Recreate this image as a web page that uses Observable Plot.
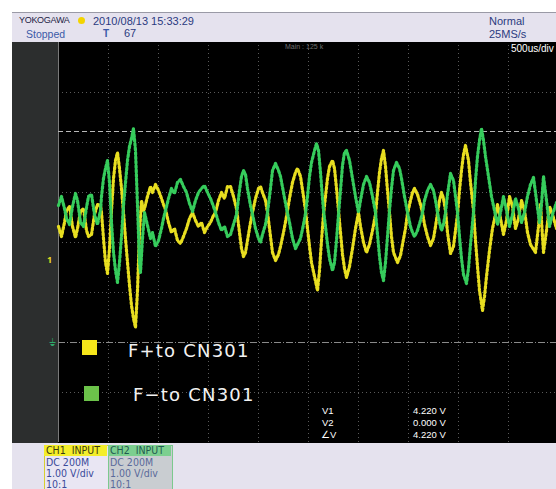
<!DOCTYPE html>
<html>
<head>
<meta charset="utf-8">
<script src="https://cdn.jsdelivr.net/npm/d3@7"></script>
<script src="https://cdn.jsdelivr.net/npm/@observablehq/plot@0.6"></script>
<style>
  html, body { margin: 0; padding: 0; background: #fff; }
  body { width: 556px; height: 489px; position: relative; overflow: hidden; font-family: "Liberation Sans", Arial, sans-serif; }
  .abs { position: absolute; white-space: nowrap; }
  #header { left: 12px; top: 12px; width: 544px; height: 29px; background: #e5e2ee; border-top: 1px solid #9a9aa6; border-bottom: 1px solid #8a8a96; }
  #screen { left: 12px; top: 42px; width: 544px; height: 401px; background: #000; }
  #strip { left: 12px; top: 42px; width: 46px; height: 401px; background: #2c2e2e; }
  #footer { left: 12px; top: 443px; width: 544px; height: 46px; background: #e5e2ee; }
  #chart { left: 0; top: 0; }
  .hd { color: #2b3a80; font-size: 11px; }
  .meas { color: #fff; font-size: 9.5px; }
  .legtxt { color: #f2f2f2; font-size: 18px; letter-spacing: 1.2px; font-family: "DejaVu Sans", "Liberation Sans", sans-serif; }
  .chtxt { color: #3a4a9a; font-size: 10.5px; line-height: 11px; font-family: "DejaVu Sans Condensed", "Liberation Sans Narrow", "Liberation Sans", sans-serif; }
</style>
</head>
<body>
<div id="header" class="abs"></div>
<div id="screen" class="abs"></div>
<div id="strip" class="abs"></div>
<div id="footer" class="abs"></div>
<div id="chart" class="abs"></div>

<!-- header texts -->
<div class="abs" style="left:19px;top:15px;font-size:9px;color:#1c1c44;letter-spacing:-0.3px;">YOKOGAWA</div>
<div class="abs" style="left:78px;top:17px;width:7px;height:7px;border-radius:50%;background:#f3d400;"></div>
<div class="abs hd" style="left:93px;top:15px;">2010/08/13 15:33:29</div>
<div class="abs" style="left:26px;top:28px;font-size:10.5px;color:#3b5aa8;">Stopped</div>
<div class="abs" style="left:103px;top:28px;font-size:10px;color:#3b5aa8;font-weight:bold;">T</div>
<div class="abs hd" style="left:124px;top:27px;">67</div>
<div class="abs hd" style="left:489px;top:15px;">Normal</div>
<div class="abs hd" style="left:489px;top:28px;">25MS/s</div>

<!-- in-screen texts -->
<div class="abs" style="left:285px;top:43px;font-size:7px;color:#6f6f6f;">Main : 125 k</div>
<div class="abs" style="left:511px;top:43px;font-size:10px;color:#fff;">500us/div</div>

<!-- legend -->
<div class="abs" style="left:82px;top:340px;width:15px;height:15px;background:#f6e61a;"></div>
<div class="abs legtxt" style="left:128px;top:340px;" id="leg1"></div>
<div class="abs" style="left:84px;top:386px;width:15px;height:15px;background:#6cc34a;"></div>
<div class="abs legtxt" style="left:133px;top:384px;" id="leg2"></div>

<!-- cursor measurements -->
<div class="abs meas" style="left:322px;top:405px;">V1</div>
<div class="abs meas" style="left:322px;top:417px;">V2</div>
<div class="abs meas" style="left:321px;top:429px;">∠V</div>
<div class="abs meas" style="left:413px;top:405px;" id="m1"></div>
<div class="abs meas" style="left:413px;top:417px;" id="m2"></div>
<div class="abs meas" style="left:413px;top:429px;" id="m3"></div>

<!-- channel boxes -->
<div class="abs" style="left:44px;top:445px;width:63px;height:44px;background:#e9e6f3;border:1px solid #d8cf30;"></div>
<div class="abs" style="left:44px;top:445px;width:63px;height:11px;background:#f4ee2a;"></div>
<div class="abs chtxt" style="left:46px;top:445px;color:#3a3a10;">CH1&nbsp; INPUT</div>
<div class="abs chtxt" style="left:46px;top:457px;">DC 200M<br>1.00 V/div<br>10:1</div>
<div class="abs" style="left:108px;top:445px;width:63px;height:44px;background:#c9cdd1;border:1px solid #7cc98e;"></div>
<div class="abs" style="left:108px;top:445px;width:63px;height:11px;background:#7ccf8f;"></div>
<div class="abs chtxt" style="left:110px;top:445px;color:#1f5a50;">CH2&nbsp; INPUT</div>
<div class="abs chtxt" style="left:110px;top:457px;color:#5a6a9a;">DC 200M<br>1.00 V/div<br>10:1</div>

<script>
// ---- data (time in ms, voltage in V, 1 V/div, 0.5 ms/div) ----
const seriesNames = ["F+to CN301", "F-to CN301"];

// F+ (CH1, yellow)
const fPlusT = [0.00,0.03,0.06,0.08,0.11,0.14,0.17,0.19,0.22,0.25,0.28,0.30,0.33,0.36,0.39,0.42,
0.43,0.45,0.47,0.49,0.51,0.53,0.55,0.57,0.59,0.61,0.63,0.65,0.67,0.69,0.71,0.73,0.75,0.77,0.79,0.81,0.83,0.85,
0.86,0.89,0.92,0.94,0.97,1.00,1.03,1.05,1.07,1.10,1.13,1.16,1.19,1.22,1.25,1.28,1.31,1.34,
1.37,1.40,1.43,1.46,1.49,1.52,1.55,1.57,1.60,1.63,1.66,1.69,1.72,1.75,1.78,
1.81,1.83,1.85,1.87,1.89,1.92,1.94,1.97,2.00,2.02,2.04,2.07,2.09,
2.12,2.14,2.17,2.20,2.22,2.25,2.28,2.31,2.34,2.37,2.39,2.42,2.45,2.47,
2.49,2.51,2.53,2.56,2.59,2.61,2.63,2.65,2.67,2.69,2.71,2.74,2.76,2.78,2.80,
2.82,2.84,2.86,2.88,2.91,2.94,2.97,3.00,3.02,3.05,3.08,3.11,3.14,3.17,
3.19,3.21,3.23,3.25,3.27,3.29,3.31,3.33,3.35,3.39,3.42,3.44,3.47,3.49,
3.52,3.54,3.56,3.59,3.62,3.64,3.66,3.69,3.72,3.75,3.77,3.79,3.81,3.83,3.85,3.87,
3.89,3.92,3.95,3.97,3.99,4.01,4.03,4.05,4.07,4.10,4.12,4.15,
4.17,4.19,4.21,4.24,4.26,4.28,4.31,4.34,4.37,
4.39,4.42,4.45,4.48,4.51,4.54,4.57,4.60,4.63,4.66,4.69,4.72,4.77,4.80,4.82,4.85,4.88,4.91,4.94,4.98];
const fPlusV = [2.32,2.12,2.40,2.64,2.72,2.32,2.10,2.28,2.62,2.68,2.24,2.12,2.16,2.56,2.76,2.74,
2.60,2.08,1.60,1.38,1.88,2.64,3.28,3.64,3.80,3.48,3.08,2.60,2.08,1.60,1.14,0.74,0.48,0.30,1.04,2.20,2.84,2.64,
2.68,2.92,3.12,3.00,3.16,3.04,2.88,2.76,2.66,2.40,2.20,2.28,2.04,1.98,2.12,2.28,2.48,2.60,
2.44,2.32,2.40,2.20,2.32,2.40,2.54,2.60,2.84,3.00,2.88,3.12,3.12,2.92,2.68,
2.20,1.88,1.72,1.80,2.04,2.40,2.60,2.88,3.08,3.12,3.00,2.84,2.60,
2.12,1.80,1.64,1.76,1.92,2.20,2.52,2.88,3.20,3.40,3.48,3.32,2.92,2.64,
2.28,1.92,1.60,1.32,1.04,1.44,2.04,2.56,2.92,3.28,3.52,3.64,3.48,3.08,2.64,
2.20,1.76,1.48,1.30,1.52,1.88,2.28,2.60,2.32,2.00,1.80,1.96,2.24,2.56,
3.00,3.40,3.68,3.84,3.52,3.04,2.60,2.12,1.80,1.60,1.74,1.96,2.28,2.58,
2.84,3.00,3.08,2.96,2.76,2.60,2.36,2.12,1.94,2.08,2.32,2.58,2.84,3.00,2.88,2.64,
2.20,1.78,1.92,2.24,2.56,3.04,3.44,3.76,3.94,3.64,3.20,2.64,
2.04,1.52,1.04,0.64,0.92,1.32,1.84,2.28,2.56,
2.76,2.48,2.16,2.44,2.92,2.72,2.28,2.48,2.84,2.64,2.20,1.96,1.80,2.32,2.76,1.80,2.24,2.72,2.56,2.28];

// F- (CH2, green)
const fMinusT = [0.00,0.03,0.06,0.08,0.11,0.14,0.17,0.19,0.22,0.25,0.28,0.30,0.33,0.36,0.39,0.42,
0.43,0.45,0.47,0.49,0.51,0.53,0.55,0.57,0.59,0.61,0.63,0.65,0.67,0.69,0.71,0.73,0.75,0.77,0.79,0.81,0.82,0.84,
0.86,0.89,0.92,0.94,0.97,1.00,1.03,1.05,1.07,1.10,1.13,1.16,1.19,1.22,1.25,1.28,1.31,1.34,
1.37,1.40,1.43,1.46,1.49,1.52,1.55,1.57,1.60,1.63,1.66,1.69,1.72,1.75,1.78,
1.81,1.83,1.85,1.87,1.89,1.92,1.94,1.97,2.00,2.02,2.04,2.07,2.09,
2.12,2.14,2.17,2.20,2.22,2.25,2.28,2.31,2.34,2.37,2.39,2.42,2.45,2.47,
2.49,2.51,2.53,2.56,2.58,2.60,2.62,2.64,2.65,2.67,2.69,2.71,2.74,2.76,2.78,2.80,
2.82,2.84,2.86,2.88,2.91,2.94,2.97,3.00,3.02,3.05,3.08,3.11,3.14,3.17,
3.19,3.21,3.23,3.25,3.27,3.29,3.31,3.33,3.35,3.38,3.41,3.43,3.46,3.49,
3.52,3.54,3.56,3.59,3.62,3.64,3.66,3.69,3.72,3.75,3.77,3.79,3.81,3.83,3.85,3.87,
3.89,3.92,3.95,3.97,3.99,4.01,4.03,4.05,4.08,4.10,4.12,4.15,
4.17,4.19,4.21,4.23,4.25,4.27,4.30,4.33,4.36,
4.39,4.42,4.45,4.48,4.51,4.54,4.57,4.60,4.63,4.66,4.69,4.72,4.75,4.78,4.81,4.83,4.85,4.88,4.91,4.94,4.98];
const fMinusV = [2.74,2.92,2.68,2.48,2.36,2.72,2.98,2.84,2.40,2.32,2.70,2.92,2.96,2.56,2.36,2.64,
2.92,3.28,3.48,3.64,3.20,2.40,1.80,1.44,1.20,1.60,2.12,2.74,3.20,3.64,3.92,4.08,4.28,3.84,2.74,1.60,1.40,2.08,
2.60,2.34,2.08,2.20,1.92,2.04,2.28,2.48,2.64,2.88,3.08,2.98,3.20,3.26,3.12,3.00,2.78,2.62,
2.84,3.00,3.08,3.14,3.00,2.88,2.72,2.60,2.40,2.24,2.32,2.12,2.16,2.36,2.56,
3.04,3.32,3.44,3.36,3.08,2.74,2.56,2.28,2.08,2.00,2.16,2.36,2.60,
3.08,3.44,3.58,3.44,3.32,3.00,2.68,2.40,2.08,1.88,1.96,2.08,2.36,2.58,
2.92,3.32,3.60,3.84,3.98,3.84,3.40,2.88,2.64,2.32,1.96,1.68,1.44,1.60,2.04,2.56,
3.04,3.54,3.80,3.84,3.64,3.28,2.92,2.60,2.84,3.16,3.32,3.20,2.92,2.60,
2.16,1.72,1.40,1.24,1.60,2.12,2.64,3.08,3.44,3.60,3.48,3.28,2.92,2.60,
2.32,2.20,2.12,2.24,2.44,2.60,2.84,3.04,3.16,3.04,2.84,2.60,2.40,2.24,2.36,2.60,
2.96,3.38,3.24,2.92,2.60,2.12,1.68,1.36,1.18,1.48,1.96,2.60,
3.24,3.72,4.04,4.28,4.04,3.72,3.32,2.92,2.64,
2.36,2.60,2.92,2.64,2.32,2.56,2.88,2.68,2.40,2.60,2.92,3.16,3.30,2.84,2.40,2.76,3.32,2.84,2.32,2.56,2.80];

// screen grid (divisions) and cursors
const gridTimes = [0.5, 1.0, 1.5, 2.0, 2.5, 3.0, 3.5, 4.0, 4.5];
const gridVolts = [5, 4, 3, 2, 1, -1];
const cursorV1 = 4.220;
const cursorV2 = 0.000;
const ch1Marker = 1.64;   // CH1 position marker level (V)

const fPlus = fPlusT.map((t, i) => ({t, v: fPlusV[i]}));
const fMinus = fMinusT.map((t, i) => ({t, v: fMinusV[i]}));

document.getElementById("leg1").textContent = seriesNames[0];
document.getElementById("leg2").textContent = seriesNames[1].replace("-", "\u2212");
document.getElementById("m1").textContent = cursorV1.toFixed(3) + " V";
document.getElementById("m2").textContent = cursorV2.toFixed(3) + " V";
document.getElementById("m3").textContent = (cursorV1 - cursorV2).toFixed(3) + " V";

const chart = Plot.plot({
  width: 556,
  height: 489,
  marginLeft: 58,
  marginRight: 0,
  marginTop: 42,
  marginBottom: 47,
  style: {background: "transparent", overflow: "visible"},
  x: {domain: [0, 4.98], axis: null},
  y: {domain: [-2, 6], axis: null},
  marks: [
    Plot.ruleX(gridTimes, {y1: -2, y2: 6, stroke: "#5a5a5a", strokeDasharray: "1,3", strokeWidth: 1}),
    Plot.ruleY(gridVolts, {stroke: "#5a5a5a", strokeDasharray: "1,3", strokeWidth: 1}),
    Plot.ruleX([0], {y1: -2, y2: 6, stroke: "#7a7a7a", strokeWidth: 1}),
    Plot.ruleY([cursorV1], {stroke: "#b8b8b8", strokeDasharray: "5,3", strokeWidth: 1}),
    Plot.ruleY([cursorV2], {stroke: "#8a8a8a", strokeDasharray: "7,2,1,2", strokeWidth: 1}),
    Plot.line(fPlus, {x: "t", y: "v", stroke: "#e8de20", strokeWidth: 3.2, strokeDasharray: "2.2,2.2"}),
    Plot.line(fMinus, {x: "t", y: "v", stroke: "#36cc5c", strokeWidth: 3.2, strokeDasharray: "2.2,2.2", strokeDashoffset: 1}),
    Plot.text([ch1Marker], {x: 0, y: d => d, text: () => "1", dx: -9, fill: "#e6dc22", fontSize: 9, fontWeight: "bold"}),
    Plot.text([cursorV2], {x: 0, y: d => d, text: () => "\u23DA", dx: -6, fill: "#2fa86a", fontSize: 10, fontFamily: "DejaVu Sans"})
  ]
});
document.getElementById("chart").appendChild(chart);
</script>
</body>
</html>
